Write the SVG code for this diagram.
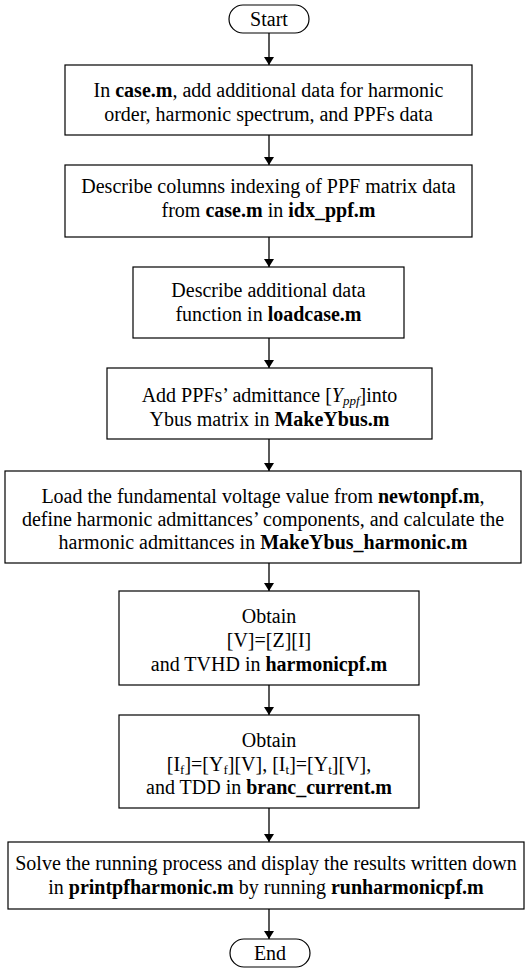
<svg xmlns="http://www.w3.org/2000/svg" width="526" height="969" viewBox="0 0 526 969">
<style>
.b{fill:#fff;stroke:#000;stroke-width:1.2}
.t{font-family:"Liberation Serif","Times New Roman",serif;font-size:20px;fill:#000;text-anchor:middle}
.c{stroke:#000;stroke-width:1.3;fill:none;marker-end:url(#ah)}
.k{font-weight:bold}
.s{font-size:13px;baseline-shift:-3px}
</style>
<defs>
<marker id="ah" markerWidth="8" markerHeight="10" refX="8" refY="5" orient="auto" markerUnits="userSpaceOnUse">
<path d="M0,0 L8,5 L0,10 Z" fill="#000"/>
</marker>
</defs>
<rect width="526" height="969" fill="#fff"/>
<g id="connectors">
<line class="c" x1="269" y1="33" x2="269" y2="65"/>
<line class="c" x1="269" y1="135" x2="269" y2="165"/>
<line class="c" x1="269" y1="237" x2="269" y2="267"/>
<line class="c" x1="269" y1="338" x2="269" y2="368"/>
<line class="c" x1="269" y1="439" x2="269" y2="471"/>
<line class="c" x1="269" y1="563" x2="269" y2="591"/>
<line class="c" x1="269" y1="685" x2="269" y2="715"/>
<line class="c" x1="269" y1="808" x2="269" y2="842"/>
<line class="c" x1="269" y1="909" x2="269" y2="939"/>
</g>
<g id="start">
<rect class="b" x="229" y="5" width="80" height="28" rx="14"/>
<text class="t" x="269" y="26">Start</text>
</g>
<g id="n1">
<rect class="b" x="65" y="65" width="407" height="70"/>
<text class="t" x="268.5" y="97">In <tspan class="k">case.m</tspan>, add additional data for harmonic</text>
<text class="t" x="268.5" y="121">order, harmonic spectrum, and PPFs data</text>
</g>
<g id="n2">
<rect class="b" x="65" y="165" width="407" height="72"/>
<text class="t" x="268.5" y="193">Describe columns indexing of PPF matrix data</text>
<text class="t" x="268.5" y="217">from <tspan class="k">case.m</tspan> in <tspan class="k">idx_ppf.m</tspan></text>
</g>
<g id="n3">
<rect class="b" x="133" y="267" width="271" height="71"/>
<text class="t" x="268.5" y="297">Describe additional data</text>
<text class="t" x="268.5" y="321">function in <tspan class="k">loadcase.m</tspan></text>
</g>
<g id="n4">
<rect class="b" x="107" y="368" width="325" height="71"/>
<text class="t" x="269.5" y="402">Add PPFs’ admittance [<tspan font-style="italic">Y</tspan><tspan class="s" font-style="italic">ppf</tspan>]into</text>
<text class="t" x="269.5" y="426">Ybus matrix in <tspan class="k">MakeYbus.m</tspan></text>
</g>
<g id="n5">
<rect class="b" x="5" y="471" width="516" height="92"/>
<text class="t" x="263" y="503">Load the fundamental voltage value from <tspan class="k">newtonpf.m</tspan>,</text>
<text class="t" x="263" y="526">define harmonic admittances’ components, and calculate the</text>
<text class="t" x="263" y="549">harmonic admittances in <tspan class="k">MakeYbus_harmonic.m</tspan></text>
</g>
<g id="n6">
<rect class="b" x="119" y="591" width="300" height="94"/>
<text class="t" x="269" y="623">Obtain</text>
<text class="t" x="269" y="647">[V]=[Z][I]</text>
<text class="t" x="269" y="671">and TVHD in <tspan class="k">harmonicpf.m</tspan></text>
</g>
<g id="n7">
<rect class="b" x="119" y="715" width="300" height="93"/>
<text class="t" x="269" y="747">Obtain</text>
<text class="t" x="269" y="771">[I<tspan class="s">f</tspan>]=[Y<tspan class="s">f</tspan>][V], [I<tspan class="s">t</tspan>]=[Y<tspan class="s">t</tspan>][V],</text>
<text class="t" x="269" y="794">and TDD in <tspan class="k">branc_current.m</tspan></text>
</g>
<g id="n8">
<rect class="b" x="8" y="842" width="516" height="67"/>
<text class="t" x="266" y="870">Solve the running process and display the results written down</text>
<text class="t" x="266" y="894">in <tspan class="k">printpfharmonic.m</tspan> by running <tspan class="k">runharmonicpf.m</tspan></text>
</g>
<g id="end">
<rect class="b" x="230" y="939" width="80" height="28" rx="14"/>
<text class="t" x="270" y="960">End</text>
</g>
</svg>
